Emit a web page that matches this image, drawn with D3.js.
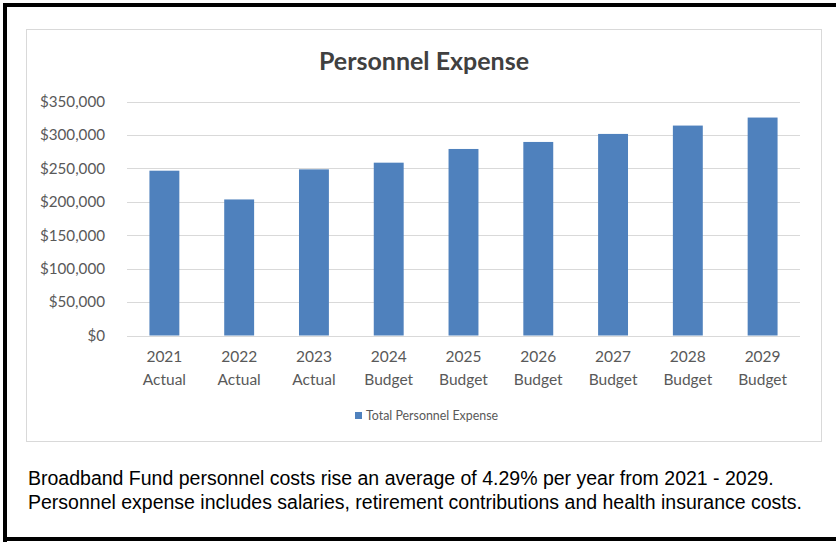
<!DOCTYPE html>
<html>
<head>
<meta charset="utf-8">
<script src="https://cdn.jsdelivr.net/npm/d3@7"></script>
<style>
  html, body { margin: 0; padding: 0; background: #fff; }
  svg { display: block; }
</style>
</head>
<body>
<svg id="chart" width="836" height="542"></svg>
<script>
const categories = ["2021 Actual", "2022 Actual", "2023 Actual", "2024 Budget", "2025 Budget", "2026 Budget", "2027 Budget", "2028 Budget", "2029 Budget"];
const values = [246500, 203500, 248500, 258500, 279000, 289500, 301500, 314000, 326000];
const yTicks = [0, 50000, 100000, 150000, 200000, 250000, 300000, 350000];
const seriesName = "Total Personnel Expense";
const title = "Personnel Expense";
const notes = [
  "Broadband Fund personnel costs rise an average of 4.29% per year from 2021 - 2029.",
  "Personnel expense includes salaries, retirement contributions and health insurance costs."
];

const svg = d3.select("#chart");
const labelFont = "Lato, 'Open Sans', sans-serif";

// outer black frame (right edge is off-canvas)
svg.append("path")
  .attr("d", "M5,545 L5,5 L845,5 M5,539 L845,539")
  .attr("fill", "none").attr("stroke", "#000").attr("stroke-width", 4);

// chart area border
svg.append("rect")
  .attr("x", 26.5).attr("y", 29.5).attr("width", 795).attr("height", 412)
  .attr("fill", "#fff").attr("stroke", "#d9d9d9").attr("stroke-width", 1);

// title
svg.append("text")
  .attr("x", 424).attr("y", 70)
  .attr("text-anchor", "middle")
  .attr("font-family", labelFont)
  .attr("font-weight", "bold")
  .attr("font-size", 25)
  .attr("fill", "#404040")
  .text(title);

const x = d3.scaleBand().domain(categories).range([127, 800]).paddingInner(0.6).paddingOuter(0.3);
const y = d3.scaleLinear().domain([0, 350000]).range([335.5, 101.5]);

// gridlines
svg.append("g").selectAll("line").data(yTicks).join("line")
  .attr("x1", 127).attr("x2", 800)
  .attr("y1", d => Math.round(y(d)) + 0.5).attr("y2", d => Math.round(y(d)) + 0.5)
  .attr("stroke", "#d9d9d9").attr("stroke-width", 1);

// y axis labels
const fmt = d => "$" + d3.format(",")(d);
const yAxis = d3.axisLeft(y).tickValues(yTicks).tickFormat(fmt).tickSize(0).tickPadding(0);
const yg = svg.append("g").attr("transform", "translate(105,0)").call(yAxis);
yg.select(".domain").remove();
yg.selectAll("text").attr("font-family", labelFont).attr("font-size", 15.2).attr("fill", "#595959");

// bars
svg.append("g").selectAll("rect").data(values).join("rect")
  .attr("x", (d, i) => x(categories[i]))
  .attr("y", d => y(d))
  .attr("width", x.bandwidth())
  .attr("height", d => y(0) - y(d))
  .attr("fill", "#4f81bd");

// x labels (two lines)
const xg = svg.append("g");
categories.forEach(c => {
  const parts = c.split(" ");
  const t = xg.append("text")
    .attr("text-anchor", "middle")
    .attr("font-family", labelFont).attr("font-size", 15.5).attr("fill", "#595959");
  t.append("tspan").attr("x", x(c) + x.bandwidth() / 2).attr("y", 362).text(parts[0]);
  t.append("tspan").attr("x", x(c) + x.bandwidth() / 2).attr("y", 385).text(parts[1]);
});

// legend
svg.append("rect").attr("x", 355).attr("y", 412).attr("width", 7).attr("height", 7).attr("fill", "#4f81bd");
svg.append("text").attr("x", 366).attr("y", 420)
  .attr("font-family", labelFont).attr("font-size", 12.4).attr("fill", "#595959")
  .text(seriesName);

// notes
const nt = svg.append("g");
notes.forEach((n, i) => {
  nt.append("text").attr("x", 28).attr("y", 485 + i * 24)
    .attr("font-family", "'Liberation Sans', Arial, sans-serif").attr("font-size", 19.5).attr("fill", "#000")
    .text(n);
});
</script>
</body>
</html>
